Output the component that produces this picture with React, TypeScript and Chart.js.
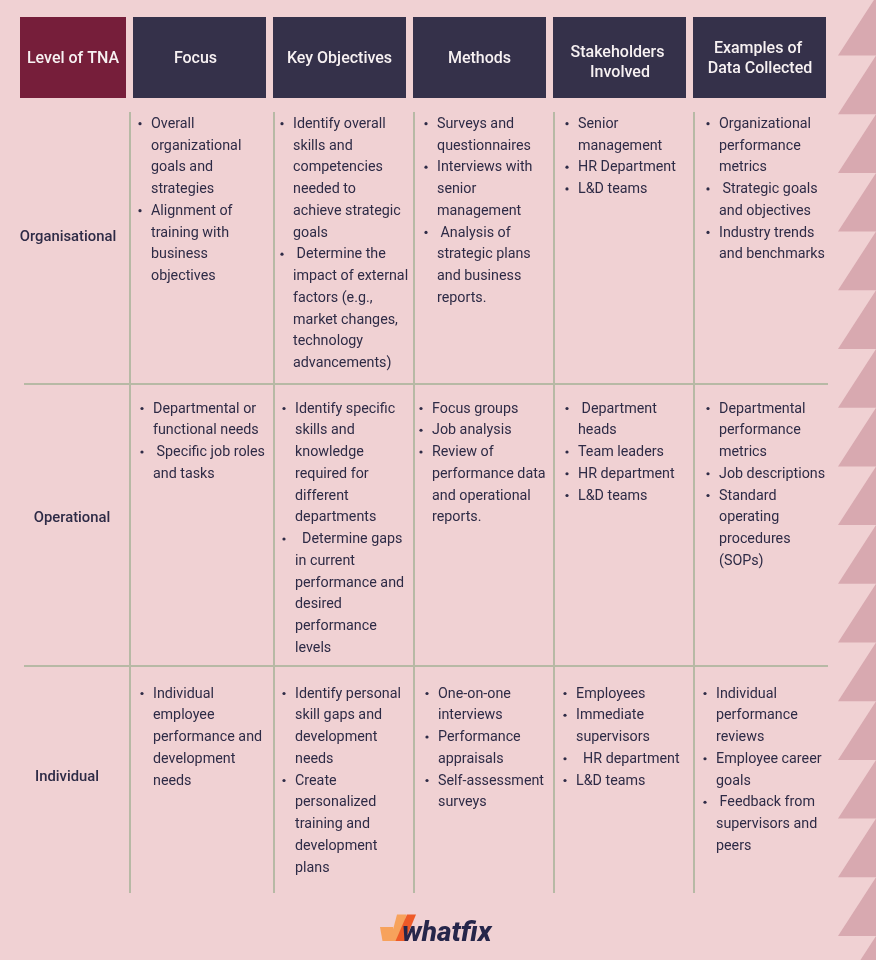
import React, { useEffect, useRef } from "react";
import { Chart, registerables } from "chart.js";

Chart.register(...registerables);

// ---------- DATA ----------
const headers: string[][] = [
  ["Level of TNA"],
  ["Focus"],
  ["Key Objectives"],
  ["Methods"],
  ["Stakeholders", "Involved"],
  ["Examples of", "Data Collected"],
];

const rowLabels: string[] = ["Organisational", "Operational", "Individual"];

const focus: string[][][] = [
  [["Overall", "organizational", "goals and", "strategies"], ["Alignment of", "training with", "business", "objectives"]],
  [["Departmental or", "functional needs"], [" Specific job roles", "and tasks"]],
  [["Individual", "employee", "performance and", "development", "needs"]],
];

const keyObjectives: string[][][] = [
  [
    ["Identify overall", "skills and", "competencies", "needed to", "achieve strategic", "goals"],
    [" Determine the", "impact of external", "factors (e.g.,", "market changes,", "technology", "advancements)"],
  ],
  [
    ["Identify specific", "skills and", "knowledge", "required for", "different", "departments"],
    ["  Determine gaps", "in current", "performance and", "desired", "performance", "levels"],
  ],
  [
    ["Identify personal", "skill gaps and", "development", "needs"],
    ["Create", "personalized", "training and", "development", "plans"],
  ],
];

const methods: string[][][] = [
  [["Surveys and", "questionnaires"], ["Interviews with", "senior", "management"], [" Analysis of", "strategic plans", "and business", "reports."]],
  [["Focus groups"], ["Job analysis"], ["Review of", "performance data", "and operational", "reports."]],
  [["One-on-one", "interviews"], ["Performance", "appraisals"], ["Self-assessment", "surveys"]],
];

const stakeholders: string[][][] = [
  [["Senior", "management"], ["HR Department"], ["L&D teams"]],
  [[" Department", "heads"], ["Team leaders"], ["HR department"], ["L&D teams"]],
  [["Employees"], ["Immediate", "supervisors"], ["  HR department"], ["L&D teams"]],
];

const examples: string[][][] = [
  [["Organizational", "performance", "metrics"], [" Strategic goals", "and objectives"], ["Industry trends", "and benchmarks"]],
  [["Departmental", "performance", "metrics"], ["Job descriptions"], ["Standard", "operating", "procedures", "(SOPs)"]],
  [["Individual", "performance", "reviews"], ["Employee career", "goals"], [" Feedback from", "supervisors and", "peers"]],
];

const columnCells = [focus, keyObjectives, methods, stakeholders, examples];
const logoText = "whatfix";

// ---------- LAYOUT ----------
const W = 876;
const H = 960;
const headerBoxes = [[20, 126], [133, 266], [273, 406], [413, 546], [553, 686], [693, 826]];
const headerTop = 17;
const headerBottom = 98;
const headerLineX = [[73], [195.5], [339.5], [479.5], [617.5, 620], [758, 760]];
const headerLineY = [[59.3], [59.3], [59.3], [59.3], [53, 73.4], [49, 69]];
const vLines = [130, 274, 414, 554, 694];
const vTop = 112;
const vBottom = 893;
const hLines = [384, 666];
const hLeft = 24;
const hRight = 828;
const rowFirstLine = [124.2, 409, 694];
const rowLabelY = [237, 518, 777];
const rowLabelX = [68, 72, 67];
const lineH = 21.75;
const textX = [
  [151, 293, 437, 578, 719],
  [153, 295, 432, 578, 719],
  [153, 295, 438, 576, 716],
];
const bulletGap = 11;
const toothTop0 = -3.2;
const toothPeriod = 58.7;
const toothLeft = 838;

const COLORS = {
  bg: "#F0D1D3",
  tooth: "#D8A9B0",
  maroon: "#761E3A",
  navy: "#35314A",
  headerText: "#F7F1F2",
  text: "#2E2B46",
  grid: "#B7B9A5",
  logoNavy: "#26264A",
  logoLight: "#F7A25C",
  logoDark: "#EE5A28",
};

const FONT = "Roboto, 'Liberation Sans', Arial, sans-serif";

const tablePlugin = {
  id: "tnaTable",
  beforeDraw(chart: any) {
    const ctx: CanvasRenderingContext2D = chart.ctx;
    const xs = chart.scales.x;
    const ys = chart.scales.y;
    const X = (v: number) => xs.getPixelForValue(v);
    const Y = (v: number) => ys.getPixelForValue(v);
    ctx.save();
    ctx.fillStyle = COLORS.bg;
    ctx.fillRect(X(0), Y(0), X(W) - X(0), Y(H) - Y(0));
    ctx.fillStyle = COLORS.tooth;
    for (let k = 0; k < 18; k++) {
      const top = toothTop0 + k * toothPeriod;
      const bot = top + toothPeriod;
      ctx.beginPath();
      ctx.moveTo(X(W), Y(top));
      ctx.lineTo(X(toothLeft), Y(bot));
      ctx.lineTo(X(W), Y(bot));
      ctx.closePath();
      ctx.fill();
    }
    headerBoxes.forEach(([a, b], i) => {
      ctx.fillStyle = i === 0 ? COLORS.maroon : COLORS.navy;
      ctx.fillRect(X(a), Y(headerTop), X(b) - X(a), Y(headerBottom) - Y(headerTop));
    });
    ctx.strokeStyle = COLORS.grid;
    ctx.lineWidth = 2;
    vLines.forEach((v) => {
      ctx.beginPath();
      ctx.moveTo(X(v), Y(vTop));
      ctx.lineTo(X(v), Y(vBottom));
      ctx.stroke();
    });
    hLines.forEach((h) => {
      ctx.beginPath();
      ctx.moveTo(X(hLeft), Y(h));
      ctx.lineTo(X(hRight), Y(h));
      ctx.stroke();
    });
    ctx.restore();
  },
  afterDraw(chart: any) {
    const ctx: CanvasRenderingContext2D = chart.ctx;
    const xs = chart.scales.x;
    const ys = chart.scales.y;
    const X = (v: number) => xs.getPixelForValue(v);
    const Y = (v: number) => ys.getPixelForValue(v);
    ctx.save();
    ctx.textBaseline = "middle";
    ctx.fillStyle = COLORS.headerText;
    ctx.font = `500 16px ${FONT}`;
    ctx.textAlign = "center";
    headers.forEach((lines, i) => {
      lines.forEach((ln, j) => {
        ctx.fillText(ln, X(headerLineX[i][j]), Y(headerLineY[i][j]));
      });
    });
    ctx.fillStyle = COLORS.text;
    ctx.font = `500 14.8px ${FONT}`;
    rowLabels.forEach((lab, r) => {
      ctx.fillText(lab, X(rowLabelX[r]), Y(rowLabelY[r]));
    });
    ctx.font = `400 14.3px ${FONT}`;
    ctx.textAlign = "left";
    columnCells.forEach((col, c) => {
      col.forEach((bullets, r) => {
        let line = 0;
        const tx = textX[r][c];
        bullets.forEach((item) => {
          const y0 = rowFirstLine[r] + line * lineH;
          ctx.beginPath();
          ctx.arc(X(tx - bulletGap), Y(y0 - 0.5), 1.6, 0, Math.PI * 2);
          ctx.fill();
          item.forEach((ln) => {
            const y = rowFirstLine[r] + line * lineH;
            ctx.fillText(ln, X(tx), Y(y));
            line++;
          });
        });
      });
    });
    const poly = (pts: number[][], color: string) => {
      ctx.fillStyle = color;
      ctx.beginPath();
      pts.forEach(([px, py], i) => (i ? ctx.lineTo(X(px), Y(py)) : ctx.moveTo(X(px), Y(py))));
      ctx.closePath();
      ctx.fill();
    };
    poly([[380, 927], [393, 927], [396, 941], [382.5, 941]], COLORS.logoLight);
    poly([[397, 914.5], [406.5, 914.5], [399.5, 941], [390, 941]], COLORS.logoLight);
    poly([[407, 914.5], [416, 914.5], [405, 941], [395.5, 941]], COLORS.logoDark);
    ctx.fillStyle = COLORS.logoNavy;
    ctx.font = `italic 800 28px ${FONT}`;
    ctx.textBaseline = "alphabetic";
    ctx.textAlign = "left";
    ctx.fillText(logoText, X(402), Y(941));
    ctx.restore();
  },
};

export default function App() {
  const ref = useRef<HTMLCanvasElement | null>(null);
  useEffect(() => {
    if (!ref.current) return;
    const points: { x: number; y: number }[] = [];
    columnCells.forEach((col, c) =>
      col.forEach((_b, r) => points.push({ x: textX[r][c], y: rowFirstLine[r] }))
    );
    const chart = new Chart(ref.current, {
      type: "scatter",
      data: {
        datasets: [
          {
            label: "cells",
            data: points,
            pointRadius: 0,
            pointHoverRadius: 0,
            showLine: false,
          },
        ],
      },
      options: {
        animation: false,
        responsive: false,
        devicePixelRatio: 1,
        events: [],
        layout: { padding: 0 },
        plugins: { legend: { display: false }, tooltip: { enabled: false } },
        scales: {
          x: { type: "linear", min: 0, max: W, display: false },
          y: { type: "linear", min: 0, max: H, reverse: true, display: false },
        },
      },
      plugins: [tablePlugin],
    });
    return () => chart.destroy();
  }, []);
  return (
    <div style={{ position: "absolute", left: 0, top: 0, width: W, height: H }}>
      <canvas ref={ref} width={W} height={H} style={{ display: "block", width: W, height: H }} />
    </div>
  );
}
